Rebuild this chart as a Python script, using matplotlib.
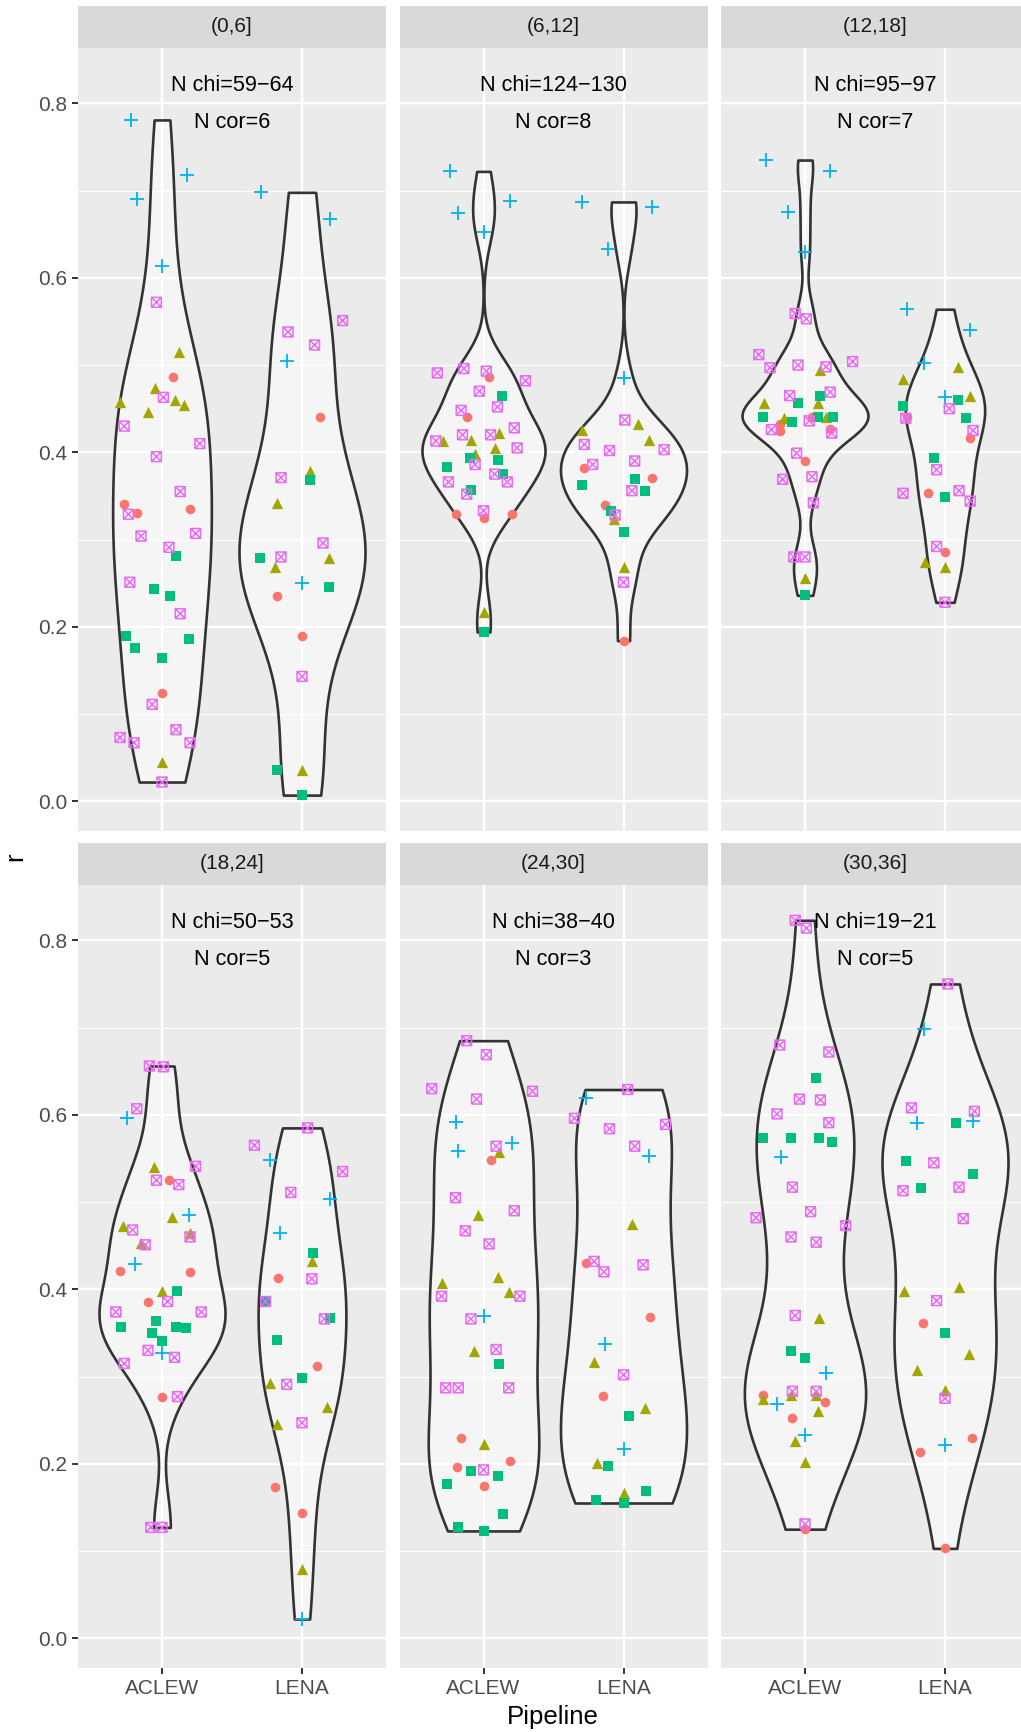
import numpy as np
import matplotlib.pyplot as plt
from matplotlib.path import Path

plt.rcParams['font.family'] = ['Liberation Sans', 'DejaVu Sans']

facets = ["(0,6]", "(6,12]", "(12,18]", "(18,24]", "(24,30]", "(30,36]"]
n_chi = ["59\u221264", "124\u2212130", "95\u221297", "50\u221253", "38\u221240", "19\u221221"]
n_cor = [6, 8, 7, 5, 3, 5]
pipelines = ["ACLEW", "LENA"]

# points per facet / pipeline / group: (r, horizontal jitter)
aclew_0_6 = {
    "g1": [(0.486, 0.08), (0.341, -0.27), (0.330, -0.18), (0.335, 0.20), (0.124, 0)],
    "g2": [(0.515, 0.12), (0.474, -0.05), (0.458, -0.30), (0.446, -0.10), (0.460, 0.09), (0.454, 0.16), (0.045, 0)],
    "g3": [(0.281, 0.10), (0.243, -0.06), (0.235, 0.06), (0.189, -0.26), (0.176, -0.19), (0.186, 0.19), (0.164, 0)],
    "g4": [(0.781, -0.22), (0.690, -0.18), (0.718, 0.18), (0.613, 0)],
    "g5": [(0.572, -0.04), (0.463, 0.01), (0.430, -0.27), (0.395, -0.04), (0.410, 0.27), (0.355, 0.13),
           (0.329, -0.24), (0.304, -0.15), (0.291, 0.05), (0.307, 0.24), (0.251, -0.23), (0.215, 0.13),
           (0.111, -0.07), (0.073, -0.30), (0.067, -0.20), (0.082, 0.10), (0.067, 0.20), (0.022, 0)],
}
lena_0_6 = {
    "g1": [(0.441, 0.13), (0.235, -0.18), (0.189, 0)],
    "g2": [(0.378, 0.06), (0.342, -0.18), (0.279, 0.19), (0.268, -0.19), (0.036, 0)],
    "g3": [(0.368, 0.06), (0.279, -0.30), (0.246, 0.19), (0.036, -0.18), (0.007, 0)],
    "g4": [(0.698, -0.29), (0.668, 0.20), (0.505, -0.11), (0.250, 0)],
    "g5": [(0.551, 0.29), (0.538, -0.10), (0.523, 0.09), (0.371, -0.15), (0.296, 0.15), (0.280, -0.15), (0.143, 0)],
}
aclew_6_12 = {
    "g1": [(0.486, 0.04), (0.441, -0.12), (0.329, -0.20), (0.325, 0), (0.329, 0.20)],
    "g2": [(0.413, -0.29), (0.414, -0.09), (0.422, 0.11), (0.398, -0.06), (0.405, 0.08), (0.217, 0)],
    "g3": [(0.464, 0.13), (0.383, -0.26), (0.393, -0.10), (0.391, 0.10), (0.375, 0.14), (0.357, -0.09), (0.194, 0)],
    "g4": [(0.722, -0.24), (0.674, -0.18), (0.688, 0.19), (0.652, 0)],
    "g5": [(0.491, -0.33), (0.496, -0.14), (0.493, 0.02), (0.482, 0.30), (0.470, -0.03), (0.448, -0.16),
           (0.452, 0.10), (0.420, -0.15), (0.413, -0.34), (0.420, 0.05), (0.428, 0.22), (0.405, 0.24),
           (0.386, -0.06), (0.366, -0.25), (0.375, 0.08), (0.366, 0.17), (0.352, -0.12), (0.333, 0)],
}
lena_6_12 = {
    "g1": [(0.382, -0.28), (0.371, 0.20), (0.339, -0.13), (0.184, 0)],
    "g2": [(0.426, -0.30), (0.432, 0.10), (0.414, 0.18), (0.324, -0.07), (0.268, 0)],
    "g3": [(0.362, -0.30), (0.369, 0.08), (0.356, 0.15), (0.333, -0.09), (0.309, 0)],
    "g4": [(0.687, -0.30), (0.681, 0.20), (0.633, -0.11), (0.485, 0)],
    "g5": [(0.437, 0.01), (0.409, -0.28), (0.402, -0.10), (0.403, 0.29), (0.386, -0.22), (0.390, 0.08),
           (0.356, 0.06), (0.328, -0.06), (0.251, 0)],
}
aclew_12_18 = {
    "g1": [(0.432, -0.18), (0.424, -0.18), (0.440, 0.05), (0.427, 0.18), (0.390, 0)],
    "g2": [(0.457, -0.29), (0.494, 0.11), (0.439, -0.15), (0.457, 0.09), (0.440, 0.15), (0.256, 0)],
    "g3": [(0.457, -0.05), (0.464, 0.11), (0.441, -0.30), (0.435, -0.09), (0.441, 0.09), (0.441, 0.20), (0.236, 0)],
    "g4": [(0.735, -0.28), (0.675, -0.12), (0.722, 0.18), (0.630, 0)],
    "g5": [(0.559, -0.07), (0.553, 0.01), (0.512, -0.33), (0.497, -0.25), (0.500, -0.05), (0.498, 0.15),
           (0.504, 0.34), (0.465, -0.11), (0.469, 0.18), (0.436, 0.03), (0.426, -0.24), (0.422, 0.19),
           (0.399, -0.06), (0.369, -0.16), (0.372, 0.05), (0.342, 0.06), (0.280, -0.08), (0.280, 0)],
}
lena_12_18 = {
    "g1": [(0.441, -0.27), (0.416, 0.18), (0.353, -0.12), (0.286, 0)],
    "g2": [(0.484, -0.30), (0.498, 0.09), (0.465, 0.18), (0.274, -0.14), (0.268, 0)],
    "g3": [(0.453, -0.30), (0.460, 0.09), (0.439, 0.15), (0.393, -0.08), (0.349, 0)],
    "g4": [(0.564, -0.27), (0.540, 0.18), (0.502, -0.15), (0.463, 0)],
    "g5": [(0.439, -0.28), (0.450, 0.03), (0.425, 0.20), (0.380, -0.06), (0.353, -0.30), (0.356, 0.10),
           (0.344, 0.18), (0.292, -0.06), (0.228, 0)],
}
aclew_18_24 = {
    "g1": [(0.525, 0.05), (0.421, -0.30), (0.420, 0.20), (0.385, -0.10), (0.276, 0)],
    "g2": [(0.540, -0.06), (0.483, 0.07), (0.472, -0.28), (0.453, -0.15), (0.464, 0.20), (0.398, 0)],
    "g3": [(0.398, 0.11), (0.364, -0.04), (0.357, -0.29), (0.357, 0.10), (0.356, 0.17), (0.350, -0.07), (0.341, 0)],
    "g4": [(0.596, -0.25), (0.485, 0.19), (0.429, -0.19), (0.327, 0)],
    "g5": [(0.656, -0.09), (0.655, 0.01), (0.607, -0.18), (0.541, 0.24), (0.525, -0.04), (0.520, 0.12),
           (0.468, -0.21), (0.451, -0.12), (0.460, 0.20), (0.386, 0.04), (0.374, -0.33), (0.374, 0.28),
           (0.330, -0.10), (0.322, 0.09), (0.315, -0.27), (0.277, 0.11), (0.127, -0.08), (0.127, 0)],
}
lena_18_24 = {
    "g1": [(0.413, -0.17), (0.312, 0.11), (0.173, -0.19), (0.143, 0)],
    "g2": [(0.432, 0.07), (0.292, -0.23), (0.265, 0.18), (0.246, -0.18), (0.079, 0)],
    "g3": [(0.442, 0.08), (0.386, -0.26), (0.367, 0.20), (0.342, -0.18), (0.298, 0)],
    "g4": [(0.548, -0.23), (0.504, 0.20), (0.464, -0.16), (0.022, 0)],
    "g5": [(0.585, 0.04), (0.565, -0.34), (0.535, 0.29), (0.511, -0.08), (0.412, 0.07), (0.386, -0.26),
           (0.366, 0.16), (0.291, -0.11), (0.247, 0)],
}
aclew_24_30 = {
    "g1": [(0.548, 0.05), (0.229, -0.16), (0.196, -0.19), (0.203, 0.19), (0.174, 0)],
    "g2": [(0.557, 0.11), (0.485, -0.04), (0.407, -0.30), (0.414, 0.10), (0.397, 0.18), (0.329, -0.07), (0.223, 0)],
    "g3": [(0.314, 0.11), (0.192, -0.09), (0.186, 0.10), (0.177, -0.26), (0.142, 0.14), (0.127, -0.18), (0.123, 0)],
    "g4": [(0.592, -0.20), (0.558, -0.18), (0.568, 0.20), (0.369, 0)],
    "g5": [(0.685, -0.12), (0.669, 0.02), (0.630, -0.37), (0.618, -0.05), (0.627, 0.35), (0.564, 0.09),
           (0.505, -0.20), (0.490, 0.22), (0.467, -0.13), (0.452, 0.04), (0.392, -0.30), (0.392, 0.26),
           (0.366, -0.09), (0.331, 0.09), (0.287, -0.27), (0.287, -0.18), (0.287, 0.18), (0.193, 0)],
}
lena_24_30 = {
    "g1": [(0.430, -0.27), (0.368, 0.19), (0.278, -0.15)],
    "g2": [(0.475, 0.06), (0.317, -0.21), (0.264, 0.15), (0.201, -0.19), (0.166, 0)],
    "g3": [(0.255, 0.04), (0.197, -0.11), (0.169, 0.16), (0.159, -0.20), (0.155, 0)],
    "g4": [(0.619, -0.27), (0.553, 0.18), (0.337, -0.13), (0.217, 0)],
    "g5": [(0.629, 0.03), (0.596, -0.35), (0.589, 0.30), (0.584, -0.10), (0.564, 0.08), (0.432, -0.21),
           (0.420, -0.14), (0.428, 0.14), (0.302, 0)],
}
aclew_30_36 = {
    "g1": [(0.279, -0.30), (0.271, 0.14), (0.252, -0.09), (0.125, 0)],
    "g2": [(0.367, 0.10), (0.274, -0.30), (0.279, -0.10), (0.279, 0.08), (0.260, 0.09), (0.226, -0.07), (0.202, 0)],
    "g3": [(0.642, 0.08), (0.573, -0.30), (0.574, -0.10), (0.573, 0.10), (0.569, 0.19), (0.329, -0.10), (0.321, 0)],
    "g4": [(0.552, -0.17), (0.304, 0.15), (0.268, -0.20), (0.233, 0)],
    "g5": [(0.823, -0.07), (0.814, 0.01), (0.680, -0.18), (0.672, 0.17), (0.618, -0.04), (0.617, 0.11),
           (0.601, -0.20), (0.591, 0.17), (0.517, -0.09), (0.489, 0.04), (0.482, -0.35), (0.473, 0.29),
           (0.460, -0.10), (0.454, 0.08), (0.370, -0.07), (0.283, -0.09), (0.283, 0.08), (0.131, 0)],
}
lena_30_36 = {
    "g1": [(0.361, -0.16), (0.213, -0.18), (0.229, 0.19), (0.103, 0)],
    "g2": [(0.398, -0.29), (0.403, 0.10), (0.308, -0.20), (0.326, 0.17), (0.285, 0)],
    "g3": [(0.591, 0.08), (0.547, -0.28), (0.516, -0.17), (0.532, 0.20), (0.350, 0)],
    "g4": [(0.698, -0.15), (0.591, -0.20), (0.593, 0.20), (0.222, 0)],
    "g5": [(0.750, 0.02), (0.608, -0.24), (0.604, 0.21), (0.545, -0.08), (0.513, -0.30), (0.517, 0.10),
           (0.481, 0.13), (0.387, -0.06), (0.275, 0)],
}

panel_data = [
    (aclew_0_6, lena_0_6), (aclew_6_12, lena_6_12), (aclew_12_18, lena_12_18),
    (aclew_18_24, lena_18_24), (aclew_24_30, lena_24_30), (aclew_30_36, lena_30_36),
]

colors = {"g1": "#F8766D", "g2": "#A3A500", "g3": "#00BF7D", "g4": "#00B0F6", "g5": "#E76BF3"}

# open square with an X inside (ggplot shape 7)
box_cross = Path(
    [(-1, -1), (1, -1), (1, 1), (-1, 1), (-1, -1), (-1, -1), (1, 1), (-1, 1), (1, -1)],
    [Path.MOVETO, Path.LINETO, Path.LINETO, Path.LINETO, Path.LINETO,
     Path.MOVETO, Path.LINETO, Path.MOVETO, Path.LINETO],
)


def nrd0(x):
    sd = np.std(x, ddof=1)
    q75, q25 = np.percentile(x, [75, 25])
    lo = min(sd, (q75 - q25) / 1.34)
    if lo <= 0:
        lo = sd
    return 0.9 * lo * len(x) ** -0.2


def peak_density(x, h):
    grid = np.linspace(x.min(), x.max(), 200)
    d = np.exp(-0.5 * ((grid[:, None] - x[None, :]) / h) ** 2).sum(axis=1)
    return d.max() / (len(x) * h * np.sqrt(2 * np.pi))


W, H = 1021, 1732
fig = plt.figure(figsize=(W / 100, H / 100), dpi=100)

all_r = [r for pair in panel_data for d in pair for g in d.values() for r, _ in g]
lo, hi = min(all_r), max(all_r)
pad = 0.05 * (hi - lo)
ylim = (lo - pad, hi + pad)

col_x = [78, 399.5, 721]
pw = 308
rows = [(6, 47.7, 830.7), (842.7, 884.7, 1667.7)]

for i, (label, pair) in enumerate(zip(facets, panel_data)):
    row, col = divmod(i, 3)
    s_top, p_top, p_bot = rows[row]
    x0 = col_x[col]

    sax = fig.add_axes([x0 / W, 1 - p_top / H, pw / W, (p_top - s_top) / H])
    sax.set_facecolor("#D9D9D9")
    sax.set_xticks([])
    sax.set_yticks([])
    for sp in sax.spines.values():
        sp.set_visible(False)
    sax.text(0.5, 0.5, label, ha="center", va="center", fontsize=15, color="#1A1A1A",
             transform=sax.transAxes)

    ax = fig.add_axes([x0 / W, 1 - p_bot / H, pw / W, (p_bot - p_top) / H])
    ax.set_facecolor("#EBEBEB")
    for sp in ax.spines.values():
        sp.set_visible(False)
    ax.set_xlim(0.4, 2.6)
    ax.set_ylim(*ylim)
    ax.set_yticks([0.0, 0.2, 0.4, 0.6, 0.8])
    ax.set_yticks([0.1, 0.3, 0.5, 0.7], minor=True)
    ax.set_xticks([1, 2])
    ax.set_axisbelow(True)
    ax.grid(which="major", color="white", linewidth=1.7)
    ax.grid(which="minor", axis="y", color="white", linewidth=0.85)
    ax.tick_params(which="minor", length=0)
    ax.tick_params(axis="y", labelsize=15, labelcolor="#4D4D4D", color="#333333",
                   length=4.3, width=1.4, pad=3.5, left=(col == 0), labelleft=(col == 0))
    ax.set_yticklabels(["0.0", "0.2", "0.4", "0.6", "0.8"])
    ax.tick_params(axis="x", labelsize=15, labelcolor="#4D4D4D", color="#333333",
                   length=4.3, width=1.4, pad=3.5, bottom=(row == 1), labelbottom=(row == 1))
    ax.set_xticklabels(pipelines)

    # violins, area-scaled within the panel
    vals = [np.array([r for g in d.values() for r, _ in g]) for d in pair]
    bws = [nrd0(v) for v in vals]
    peaks = [peak_density(v, h) for v, h in zip(vals, bws)]
    for k, (v, h) in enumerate(zip(vals, bws)):
        vp = ax.violinplot([v], positions=[k + 1], widths=0.9 * peaks[k] / max(peaks),
                           bw_method=h / np.std(v, ddof=1), showextrema=False, points=200)
        for b in vp["bodies"]:
            b.set_alpha(None)
            b.set_facecolor((1, 1, 1, 0.5))
            b.set_edgecolor("#333333")
            b.set_linewidth(1.9)
            b.set_zorder(2)

    # jittered points
    for k, d in enumerate(pair):
        for g, pts in d.items():
            r = [p[0] for p in pts]
            x = [k + 1 + p[1] for p in pts]
            c = colors[g]
            if g == "g1":
                ax.scatter(x, r, s=48, marker="o", color=c, linewidths=0, zorder=3)
            elif g == "g2":
                ax.scatter(x, r, s=66, marker="^", color=c, linewidths=0, zorder=3)
            elif g == "g3":
                ax.scatter(x, r, s=52, marker="s", color=c, linewidths=0, zorder=3)
            elif g == "g4":
                ax.scatter(x, r, s=96, marker="+", color=c, linewidths=1.3, zorder=3)
            else:
                ax.scatter(x, r, s=50, marker=box_cross, facecolors="none", edgecolors=c,
                           linewidths=1.1, zorder=3)

    ax.text(1.5, 0.82, "N chi=" + n_chi[i], ha="center", va="center", fontsize=15.6, color="black", zorder=4)
    ax.text(1.5, 0.778, "N cor=" + str(n_cor[i]), ha="center", va="center", fontsize=15.6, color="black", zorder=4)

fig.text(553 / W, 1 - 1716.7 / H, "Pipeline", ha="center", va="center", fontsize=18.6)
fig.text(15 / W, 1 - 857 / H, "r", ha="center", va="center", fontsize=18.6, rotation=90)

fig.savefig("out.png", dpi=100)
